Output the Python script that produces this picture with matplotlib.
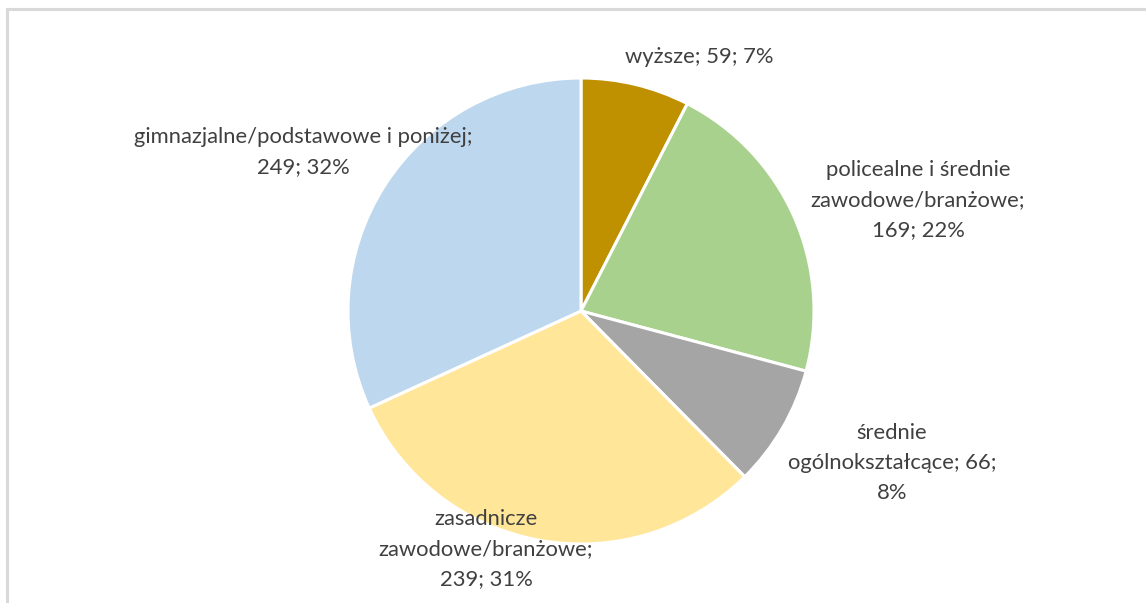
import matplotlib.pyplot as plt
from matplotlib.patches import Rectangle

# education level of respondents
categories = ['wyższe', 'policealne i średnie\nzawodowe/branżowe', 'średnie\nogólnokształcące',
              'zasadnicze\nzawodowe/branżowe', 'gimnazjalne/podstawowe i poniżej']
counts = [59, 169, 66, 239, 249]
percents = [7, 22, 8, 31, 32]
label_texts = ['wyższe; 59; 7%',
               'policealne i średnie\nzawodowe/branżowe;\n169; 22%',
               'średnie\nogólnokształcące; 66;\n8%',
               'zasadnicze\nzawodowe/branżowe;\n239; 31%',
               'gimnazjalne/podstawowe i poniżej;\n249; 32%']
colors = ['#BF9000', '#A9D18E', '#A5A5A5', '#FFE699', '#BDD7EE']

W, H = 1146, 603
fig = plt.figure(figsize=(W / 100, H / 100), dpi=100)

# light frame around the chart area
fig.patches.append(Rectangle((7 / W, -0.05), 1.2, (603 - 9) / H + 0.05, transform=fig.transFigure,
                             fill=False, edgecolor='#D9D9D9', linewidth=2.2))

cx, cy, r = 581, 311, 233
ax = fig.add_axes([(cx - r) / W, (H - cy - r) / H, 2 * r / W, 2 * r / H])
ax.pie(counts, colors=colors, startangle=90, counterclock=False,
       wedgeprops=dict(edgecolor='white', linewidth=2.2))
ax.set_xlim(-1, 1)
ax.set_ylim(-1, 1)
ax.set_aspect('auto')
ax.axis('off')

# label centres in pixels of the reference picture
label_pos = [(699, 57), (918, 200), (892, 463), (486, 549), (303, 152)]
for txt, (px, py) in zip(label_texts, label_pos):
    fig.text(px / W, 1 - py / H, txt, ha='center', va='center', multialignment='center',
             fontsize=15.8, color='#404040', family='Lato', linespacing=1.62)

fig.savefig('out.png', dpi=100)
